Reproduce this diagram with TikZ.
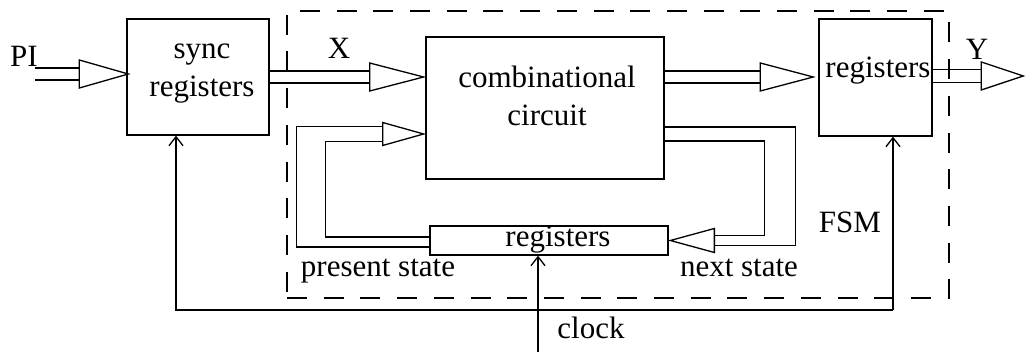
\documentclass[tikz,border=0pt]{standalone}
\usepackage{fontspec}
\setmainfont{Liberation Serif}
\usetikzlibrary{arrows.meta,positioning,shapes.geometric}

\begin{document}
\begin{tikzpicture}[x=1pt, y=-1pt, line width=1.3pt,
	box/.style={draw, inner sep=0pt},
	txt/.style={inner sep=0pt, font=\fontsize{31}{38}\selectfont, align=center},
	tri/.style={draw, fill=white, isosceles triangle, isosceles triangle stretches,
		inner sep=0pt},
	arr/.style={-{Straight Barb[length=9pt, width=14pt]}},
	frame/.style={draw, dash pattern=on 20pt off 16.7pt, inner sep=0pt}
]
	\useasboundingbox (0,0) rectangle (1026,352);

	% FSM frame
	\node[frame, minimum width=662pt, minimum height=287pt] (fsm) at (618,154.5) {};

	% Boxes
	\node[box, minimum width=142pt, minimum height=116pt] (sync) at (198,77) {};
	\node[box, minimum width=238pt, minimum height=142pt] (comb) at (545,108) {};
	\node[box, minimum width=113pt, minimum height=117pt] (outreg) at (875.5,77.5) {};
	\node[box, minimum width=238pt, minimum height=29pt] (streg) at (549,240.5) {};

	\node[txt] (synctxt) at (202,74) {sync\\registers};
	\node[txt] (combtxt) at (547,96) {combinational\\circuit};
	\node[txt, anchor=base] (outregtxt) at (878,78) {registers};
	\node[txt, anchor=base] (stregtxt) at (558,247) {registers};

	% Labels
	\node[txt, anchor=base] (pi) at (24,67) {PI};
	\node[txt, anchor=base] (xlbl) at (339,59) {X};
	\node[txt, anchor=base] (ylbl) at (977,60) {Y};
	\node[txt, anchor=base] (fsmlbl) at (850,233) {FSM};
	\node[txt, anchor=base] (pslbl) at (378,277) {present state};
	\node[txt, anchor=base] (nslbl) at (739,277) {next state};
	\node[txt, anchor=base] (clklbl) at (591,339) {clock};

	% Bus inputs and outputs
	\coordinate (piin) at (35,74);
	\node[tri, minimum height=49pt, minimum width=28pt, anchor=apex] (tpi) at (130,74) {};
	\draw ([yshift=6pt]tpi.west) -- ([yshift=6pt]tpi.west -| piin);
	\draw ([yshift=-6pt]tpi.west) -- ([yshift=-6pt]tpi.west -| piin);

	\node[tri, minimum height=54pt, minimum width=28pt, anchor=apex] (tx) at (comb.west |- 0,77) {};
	\draw ([yshift=6pt]tx.west) -- ([yshift=6pt]tx.west -| sync.east);
	\draw ([yshift=-6pt]tx.west) -- ([yshift=-6pt]tx.west -| sync.east);

	\node[tri, minimum height=53pt, minimum width=28pt, anchor=apex] (tout) at (815,77) {};
	\draw ([yshift=6pt]tout.west) -- ([yshift=6pt]tout.west -| comb.east);
	\draw ([yshift=-6pt]tout.west) -- ([yshift=-6pt]tout.west -| comb.east);

	\node[tri, minimum height=42pt, minimum width=28pt, anchor=apex] (ty) at (1025,76) {};
	\draw ([yshift=6.5pt]ty.west) -- ([yshift=6.5pt]ty.west -| outreg.east);
	\draw ([yshift=-6.5pt]ty.west) -- ([yshift=-6.5pt]ty.west -| outreg.east);

	% Next state
	\node[tri, shape border rotate=180, minimum height=44pt, minimum width=24pt,
		anchor=apex] (tns) at (streg.east) {};
	\draw ([yshift=-19pt]comb.east) -- ++(131,0) |- ([yshift=-5pt]tns.east);
	\draw ([yshift=-33pt]comb.east) -- ++(100,0) |- ([yshift=5pt]tns.east);

	% Present state
	\node[tri, minimum height=41pt, minimum width=23pt, anchor=apex] (tps)
		at ([yshift=-26pt]comb.west) {};
	\draw ([yshift=-6.5pt]streg.west) -- ++(-133,0) |- ([yshift=7.5pt]tps.west);
	\draw ([yshift=3.5pt]streg.west) -- ++(-104,0) |- ([yshift=-7.5pt]tps.west);

	% Clock and sync feedback
	\coordinate (clk) at (538,352);
	\draw[arr] (clk) -- (clk |- streg.south);
	\coordinate (fb) at (893,310);
	\draw[arr] (fb) -- (fb |- outreg.south);
	\draw[arr] (fb) -| ([xshift=-22pt]sync.south);
\end{tikzpicture}
\end{document}
